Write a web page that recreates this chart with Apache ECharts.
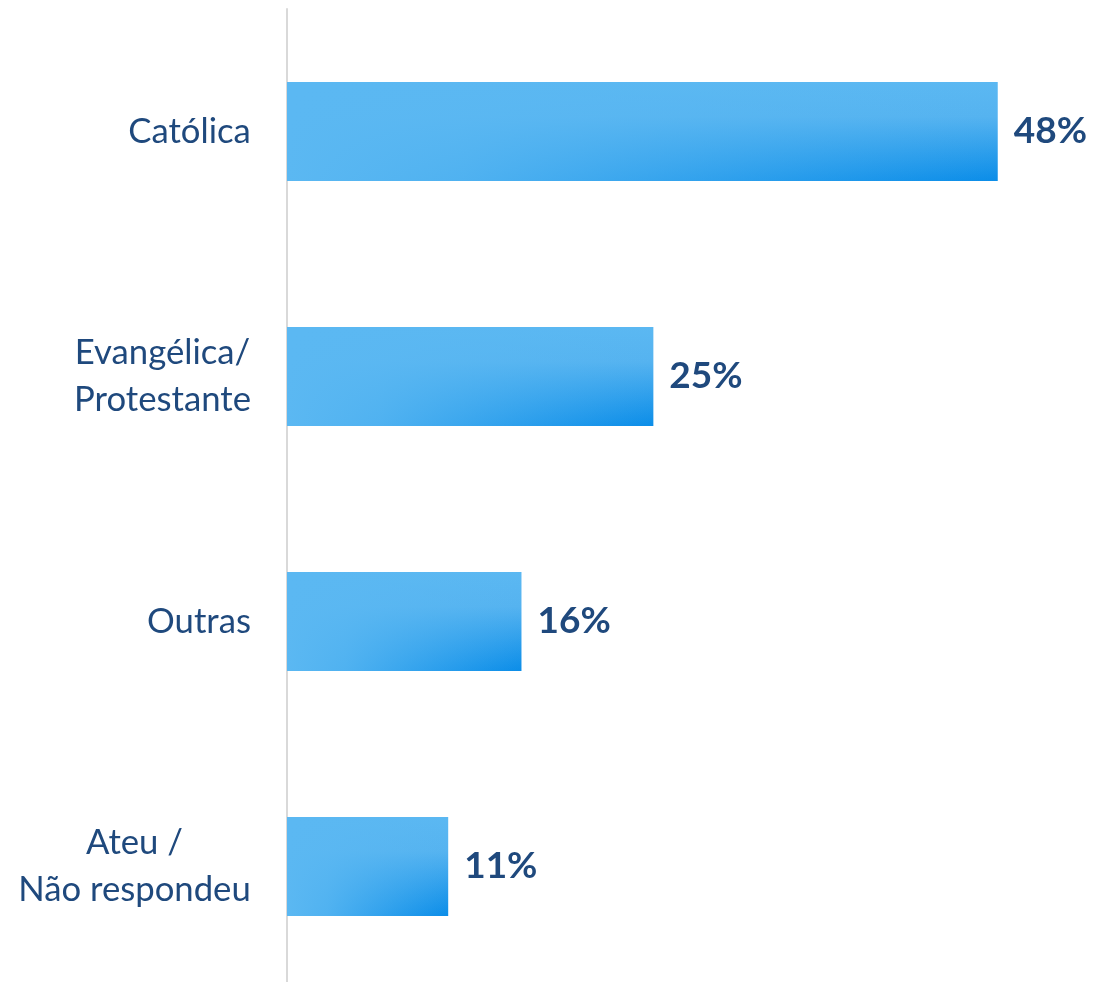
<!DOCTYPE html>
<html>
<head>
<meta charset="utf-8">
<script src="https://cdn.jsdelivr.net/npm/echarts@6/dist/echarts.min.js"></script>
<style>
html,body{margin:0;padding:0;background:#fff;}
#c{width:1093px;height:982px;}
</style>
</head>
<body>
<div id="c"></div>
<script>
const categories = ['Católica', 'Evangélica/\nProtestante', 'Outras', 'Ateu /\nNão respondeu'];
const values = [48.5, 25, 16, 11];
const valueLabels = ['48%', '25%', '16%', '11%'];

const LIGHT = '#5BB8F2';
const DARK = '#0B8DE8';
const TEXT = '#1F497D';
const CAT_FONT = 34.7;

// measure line widths so multi-line labels are centered line-by-line
const cv = document.createElement('canvas').getContext('2d');
cv.font = CAT_FONT + 'px Lato';
const rich = {};
categories.forEach((c, i) => {
  const w = Math.max(...c.split('\n').map(s => cv.measureText(s).width));
  rich['r' + i] = { width: Math.ceil(w), align: 'center', fontFamily: 'Lato', fontSize: CAT_FONT, lineHeight: 47, color: TEXT };
});

const chart = echarts.init(document.getElementById('c'));
chart.setOption({
  backgroundColor: '#ffffff',
  animation: false,
  grid: { left: 287, width: 806, top: 9, height: 980, containLabel: false, outerBoundsMode: 'none' },
  xAxis: {
    type: 'value', min: 0, max: 55,
    show: false
  },
  yAxis: {
    type: 'category', inverse: true, data: categories,
    axisLine: { show: true, lineStyle: { color: '#D9D9D9', width: 2 } },
    axisTick: { show: false },
    splitLine: { show: false },
    axisLabel: {
      margin: 36, color: TEXT, fontFamily: 'Lato', fontSize: CAT_FONT,
      lineHeight: 47, align: 'right',
      formatter: (v, i) => v.split('\n').map(s => '{r' + i + '|' + s + '}').join('\n'),
      rich: rich
    }
  },
  series: [
    {
      type: 'bar', data: values, barWidth: 99, silent: true,
      itemStyle: {
        color: new echarts.graphic.LinearGradient(0, 0, 0, 1, [
          { offset: 0, color: LIGHT },
          { offset: 0.35, color: '#55B3F0' },
          { offset: 1, color: DARK }
        ])
      },
      z: 2
    },
    {
      type: 'bar', data: values, barWidth: 99, barGap: '-100%', silent: true,
      itemStyle: {
        color: new echarts.graphic.LinearGradient(0, 0, 1, 0, [
          { offset: 0, color: 'rgba(91,184,242,1)' },
          { offset: 0.25, color: 'rgba(91,184,242,0.85)' },
          { offset: 1, color: 'rgba(91,184,242,0)' }
        ])
      },
      label: {
        show: true, position: 'right', distance: 16,
        formatter: p => valueLabels[p.dataIndex],
        color: TEXT, fontFamily: 'Lato', fontWeight: 'bold', fontSize: 37
      },
      z: 3
    }
  ]
});
</script>
</body>
</html>
